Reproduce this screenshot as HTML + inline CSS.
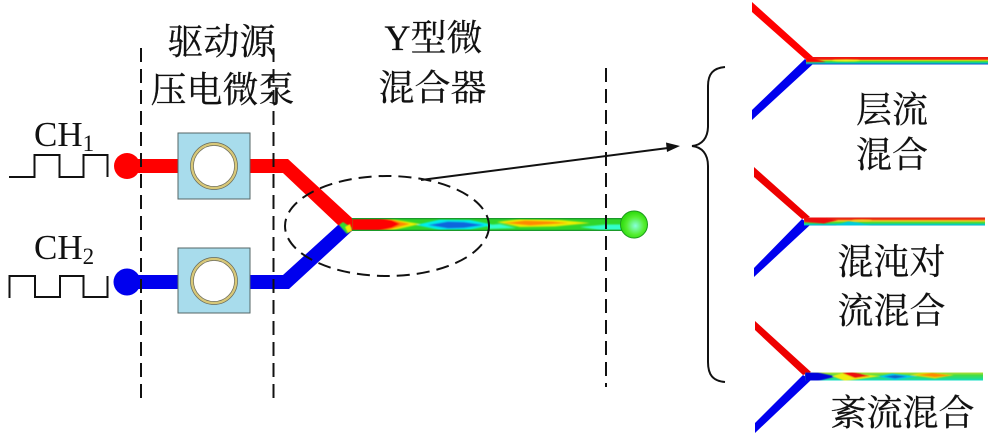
<!DOCTYPE html>
<html><head><meta charset="utf-8"><style>
html,body{margin:0;padding:0;background:#fff}
svg{display:block}
.z{font-family:"Liberation Serif","Noto Serif CJK SC",serif;font-size:36px;fill:#111;stroke:#111;stroke-width:.25;text-anchor:middle}
.c{font-family:"Liberation Serif",serif;font-size:35px;fill:#111}
.s{font-size:23px}
</style></head><body>
<svg width="1000" height="445" viewBox="0 0 1000 445" xmlns="http://www.w3.org/2000/svg">
<defs>
<clipPath id="cm"><rect x="352" y="218" width="274" height="13"/></clipPath>
<clipPath id="c1"><rect x="806" y="57" width="182" height="7.500"/></clipPath>
<clipPath id="c2"><rect x="804" y="217.500" width="181" height="8"/></clipPath>
<clipPath id="c3"><rect x="805" y="372.500" width="178" height="8"/></clipPath>
<linearGradient id="l1" x1="0" x2="0" y1="0" y2="1">
<stop offset="0" stop-color="#e11"/><stop offset=".3" stop-color="#e21"/><stop offset=".42" stop-color="#ec1"/><stop offset=".6" stop-color="#4d3"/><stop offset=".8" stop-color="#0cb"/><stop offset="1" stop-color="#13c"/>
</linearGradient>
<linearGradient id="l2" x1="0" x2="0" y1="0" y2="1">
<stop offset="0" stop-color="#d11"/><stop offset=".25" stop-color="#e41"/><stop offset=".42" stop-color="#ec2"/><stop offset=".65" stop-color="#4d3"/><stop offset=".9" stop-color="#0cc"/><stop offset="1" stop-color="#09c"/>
</linearGradient>
<linearGradient id="l3" x1="0" x2="0" y1="0" y2="1">
<stop offset="0" stop-color="#bd3"/><stop offset=".35" stop-color="#4d4"/><stop offset=".75" stop-color="#2d8"/><stop offset="1" stop-color="#1dc"/>
</linearGradient>
<radialGradient id="g" cx=".55" cy=".55"><stop offset="0" stop-color="#8fd"/><stop offset=".65" stop-color="#5e3"/><stop offset="1" stop-color="#3d1"/></radialGradient>
<filter id="b" x="-20%" y="-50%" width="140%" height="200%"><feGaussianBlur stdDeviation=".8"/></filter>
<filter id="b2" x="-10%" y="-50%" width="120%" height="200%"><feGaussianBlur stdDeviation=".4"/></filter>
</defs>

<!-- left channels -->
<circle cx="127" cy="166" r="13" fill="#f00"/>
<polygon points="127,159 288,159 352,218 356,224 352,231 345,229 338,225 283,173 127,173" fill="#f00"/>
<circle cx="127" cy="282" r="13.500" fill="#00e"/>
<polygon points="127,275 283,275 338,225 345,227 352,231 289,289 127,289" fill="#00e"/>
<polygon points="339,225 343,222 352,228 347,234" fill="#3d3" filter="url(#b2)"/>
<polygon points="345,227 350,224 352,231 348,233" fill="#ee0" filter="url(#b2)"/>

<!-- mixer -->
<g clip-path="url(#cm)">
<rect x="352" y="218" width="274" height="13" fill="#2fd62a"/>
<g filter="url(#b)">
<polygon points="416,225 440,219.500 470,220 494,225 470,229.500 440,230" fill="#0ee"/>
<polygon points="428,225 448,221.500 464,222 484,225 464,228 448,228.500" fill="#16d"/>
<polygon points="580,227 606,224.500 630,224.500 630,230 600,230" fill="#3fc"/>
<polygon points="488,225 500,224 516,228 488,229" fill="#3fc"/>
<polygon points="497,222 520,219 560,220 590,223 555,226.500 520,227" fill="#ee0"/>
<polygon points="504,223 525,220.500 552,221.500 568,223 530,225.500" fill="#f80"/>
<polygon points="352,216 385,218 420,224 385,232 352,233" fill="#ee0"/>
<polygon points="352,216 382,217.500 410,224 382,231.500 352,233" fill="#f80"/>
<polygon points="352,216 378,217.500 392,220 400,224 392,228 378,231 352,233" fill="#f00"/>
</g>
<rect x="352" y="218" width="274" height="1.300" fill="#1a9a2a"/>
<rect x="352" y="229.700" width="274" height="1.300" fill="#1a9a2a"/>
</g>
<circle cx="634" cy="224.500" r="13.500" fill="url(#g)" stroke="#1c9a1c" stroke-width="1"/>

<!-- pumps -->
<rect x="178" y="133" width="72" height="66" fill="#a8dcec" stroke="#566" stroke-width="1"/>
<rect x="178" y="248" width="72" height="65" fill="#a8dcec" stroke="#566" stroke-width="1"/>
<circle cx="214" cy="166" r="22" fill="#fff" stroke="#d8c878" stroke-width="2.500"/>
<circle cx="214" cy="166" r="23.500" fill="none" stroke="#665" stroke-width=".7"/>
<circle cx="214" cy="166" r="20.500" fill="none" stroke="#665" stroke-width=".7"/>
<circle cx="214" cy="281" r="22" fill="#fff" stroke="#d8c878" stroke-width="2.500"/>
<circle cx="214" cy="281" r="23.500" fill="none" stroke="#665" stroke-width=".7"/>
<circle cx="214" cy="281" r="20.500" fill="none" stroke="#665" stroke-width=".7"/>

<!-- dashed -->
<g fill="none" stroke="#111" stroke-width="2" stroke-dasharray="14 7">
<line x1="141" y1="48" x2="141" y2="398"/>
<line x1="273.500" y1="48" x2="273.500" y2="398"/>
<line x1="606" y1="68" x2="606" y2="387"/>
<ellipse cx="387" cy="226" rx="102" ry="50" stroke-dasharray="13 7"/>
</g>

<!-- waves -->
<g fill="none" stroke="#111" stroke-width="2">
<polyline points="9,177 34.500,177 34.500,155 59.500,155 59.500,177 83.500,177 83.500,155 107.500,155 107.500,177"/>
<polyline points="9.500,298 9.500,276 35,276 35,297 60,297 60,276 83.500,276 83.500,297 107.500,297 107.500,276"/>
<line x1="421" y1="180" x2="668" y2="148"/>
<path d="M725,67 C713,68 708,74 708,86 L708,126 C708,138 702,145 692,146 C702,147 708,154 708,166 L708,362 C708,375 713,381 725,382"/>
</g>
<polygon points="680,146 666,142.500 667,152" fill="#111"/>

<!-- right panel 1 -->
<polygon points="752,2 813,57 805,59 752,12" fill="#f00"/>
<polygon points="752,110 805,59 813,64 752,120" fill="#00e"/>
<g clip-path="url(#c1)">
<rect x="806" y="57" width="182" height="7.500" fill="url(#l1)"/>
<polygon points="806,57 812,58 826,62 806,62" fill="#f00" filter="url(#b2)"/>
<ellipse cx="846" cy="60.500" rx="14" ry="1" fill="#ee2" filter="url(#b2)"/>
</g>
<!-- right panel 2 -->
<polygon points="754,167 810,217 802,219 754,177" fill="#e00"/>
<polygon points="754,268 802,219 810,225 754,277" fill="#00e"/>
<g clip-path="url(#c2)">
<rect x="804" y="217.500" width="181" height="8" fill="url(#l2)"/>
<g filter="url(#b2)">
<polygon points="804,217 822,217 838,220 824,223.500 804,222" fill="#e11"/>
<polygon points="836,225 848,221.500 858,222.500 872,226 836,226" fill="#0cd"/>
<ellipse cx="862" cy="220.500" rx="10" ry="1" fill="#ec2"/>
</g>
</g>
<!-- right panel 3 -->
<polygon points="755,321 811,372 803,375 755,330" fill="#e00"/>
<polygon points="755,423 803,375 811,380 755,433" fill="#00e"/>
<g clip-path="url(#c3)">
<rect x="805" y="372.500" width="178" height="8" fill="url(#l3)"/>
<g filter="url(#b2)">
<polygon points="805,372 818,372.500 836,376.500 818,381 805,381" fill="#00d"/>
<polygon points="832,376 845,372.500 880,376 860,379 845,381" fill="#ee1"/>
<polygon points="842,373 852,372 870,376 855,378" fill="#e11"/>
<polygon points="878,376.500 892,373.500 917,376.500 895,380" fill="#0ce"/>
<polygon points="884,376.500 895,375 907,376.500 895,378.500" fill="#16c"/>
<polygon points="910,375 925,372 954,375 935,378.500" fill="#dd1"/>
<polygon points="918,375 932,373 950,375.500 935,377" fill="#f80"/>
</g>
</g>

<!-- labels -->
<text class="c" x="34" y="146">CH<tspan class="s" dy="5">1</tspan></text>
<text class="c" x="34" y="259">CH<tspan class="s" dy="5">2</tspan></text>
<text class="z" x="221.500" y="54">驱动源</text>
<text class="z" x="222.500" y="102">压电微泵</text>
<text class="z" x="433.500" y="50">Y型微</text>
<text class="z" x="432.500" y="100">混合器</text>
<text class="z" x="892" y="122">层流</text>
<text class="z" x="892" y="167">混合</text>
<text class="z" x="891.500" y="274">混沌对</text>
<text class="z" x="891.500" y="323">流混合</text>
<text class="z" x="902.500" y="425">紊流混合</text>
</svg>
</body></html>
